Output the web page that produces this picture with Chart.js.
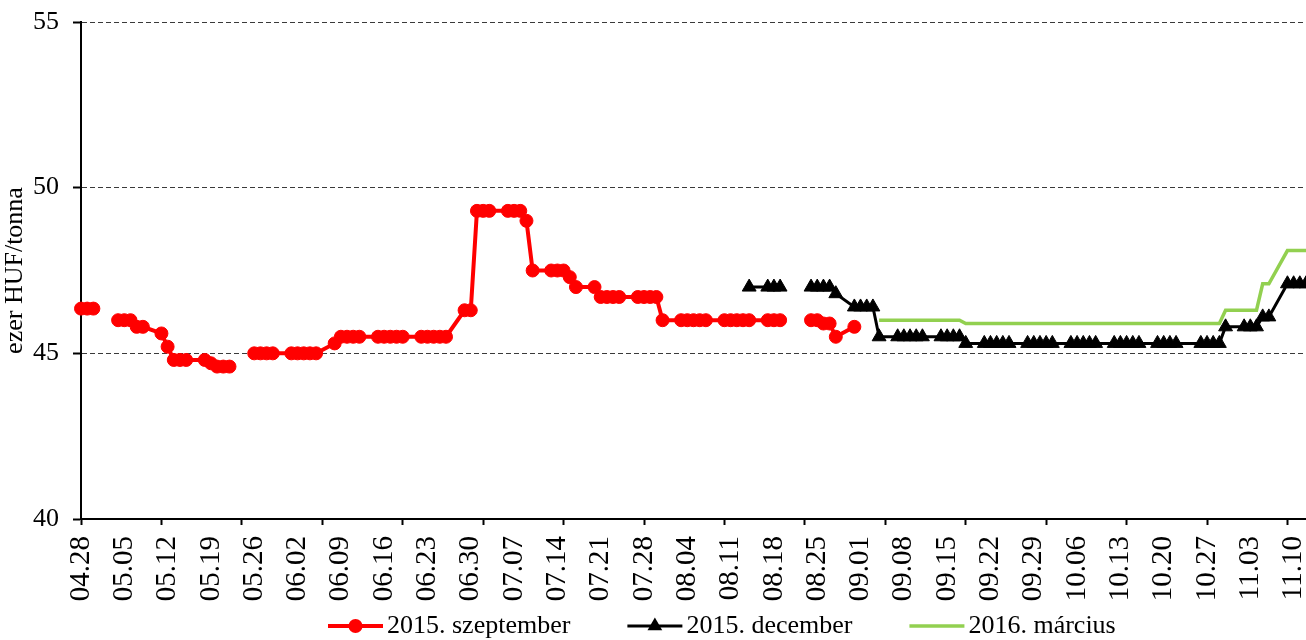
<!DOCTYPE html>
<html>
<head>
<meta charset="utf-8">
<script src="https://cdn.jsdelivr.net/npm/chart.js@4.4.0/dist/chart.umd.min.js"></script>
<style>
  html, body { margin: 0; padding: 0; background: #fff; }
  #wrap { width: 1306px; height: 640px; }
</style>
</head>
<body>
<div id="wrap"><canvas id="chart" width="1306" height="640"></canvas></div>
<script>
// x axis: one category per calendar day
const firstDay = "2015-04-28";
const lastDay = "2015-11-12";
const labelStep = 7;    // a date label every week
const tickStep = 13;    // tick marks every 13 days
// weekdays that have no row in the table
const noRow = ["10.23"];

// one value per trading row, week by week (null = empty cell)
const szeptStart = "04.28";
const szept2015 = [
  46.35, 46.35, 46.35, null,
  46.0, 46.0, 46.0, 45.8, 45.8,
  45.6, 45.2, 44.8, 44.8, 44.8,
  44.8, 44.7, 44.6, 44.6, 44.6,
  null, 45.0, 45.0, 45.0, 45.0,
  45.0, 45.0, 45.0, 45.0, 45.0,
  45.3, 45.5, 45.5, 45.5, 45.5,
  45.5, 45.5, 45.5, 45.5, 45.5,
  45.5, 45.5, 45.5, 45.5, 45.5,
  46.3, 46.3, 49.3, 49.3, 49.3,
  49.3, 49.3, 49.3, 49.0, 47.5,
  47.5, 47.5, 47.5, 47.3, 47.0,
  47.0, 46.7, 46.7, 46.7, 46.7,
  46.7, 46.7, 46.7, 46.7, 46.0,
  46.0, 46.0, 46.0, 46.0, 46.0,
  46.0, 46.0, 46.0, 46.0, 46.0,
  46.0, 46.0, 46.0, null, null,
  46.0, 46.0, 45.9, 45.9, 45.5,
  45.8
];

const decStart = "08.14";
const dec2015 = [
  47.0,
  47.0, 47.0, 47.0, null, null,
  47.0, 47.0, 47.0, 47.0, 46.8,
  46.4, 46.4, 46.4, 46.4, 45.5,
  45.5, 45.5, 45.5, 45.5, 45.5,
  45.5, 45.5, 45.5, 45.5, 45.3,
  45.3, 45.3, 45.3, 45.3, 45.3,
  45.3, 45.3, 45.3, 45.3, 45.3,
  45.3, 45.3, 45.3, 45.3, 45.3,
  45.3, 45.3, 45.3, 45.3, 45.3,
  45.3, 45.3, 45.3, 45.3,
  45.3, 45.3, 45.3, 45.3, 45.8,
  45.8, 45.8, 45.8, 46.1, 46.1,
  47.1, 47.1, 47.1, 47.1
];

const marStart = "09.04";
const mar2016 = [
  46.0,
  46.0, 46.0, 46.0, 46.0, 46.0,
  46.0, 46.0, 46.0, 46.0, 45.9,
  45.9, 45.9, 45.9, 45.9, 45.9,
  45.9, 45.9, 45.9, 45.9, 45.9,
  45.9, 45.9, 45.9, 45.9, 45.9,
  45.9, 45.9, 45.9, 45.9, 45.9,
  45.9, 45.9, 45.9, 45.9,
  45.9, 45.9, 45.9, 45.9, 46.3,
  46.3, 46.3, 46.3, 47.1, 47.1,
  48.1, 48.1, 48.1, 48.1
];

const seriesNames = ["2015. szeptember", "2015. december", "2016. március"];

const fontFam = '"Liberation Serif", "Times New Roman", serif';
const font = { family: fontFam, size: 26 };
const dateFont = { family: fontFam, size: 29 };

// calendar labels and trading rows
const dayLabels = [];
const rowDays = [];
for (let t = new Date(firstDay + "T00:00:00Z"); t <= new Date(lastDay + "T00:00:00Z"); t.setUTCDate(t.getUTCDate() + 1)) {
  const lbl = String(t.getUTCMonth() + 1).padStart(2, "0") + "." + String(t.getUTCDate()).padStart(2, "0");
  dayLabels.push(lbl);
  const wd = t.getUTCDay();
  if (wd !== 0 && wd !== 6 && !noRow.includes(lbl)) rowDays.push(lbl);
}

function rows(start, values){
  const i0 = rowDays.indexOf(start);
  return values.map((v, i) => ({ x: rowDays[i0 + i], y: v }));
}

// no extra room for overflowing tick labels
function noPad(s){ s.paddingLeft = 0; s.paddingRight = 0; s.paddingTop = 0; s.paddingBottom = 0; }

// legend under the plot: line + marker + text
const bottomLegend = {
  id: "bottomLegend",
  afterDraw(chart){
    const ctx = chart.ctx;
    const y = 626;
    let x = 328;
    ctx.save();
    ctx.font = "26px " + fontFam;
    ctx.textBaseline = "middle";
    ctx.textAlign = "left";
    chart.data.datasets.forEach(ds => {
      ctx.strokeStyle = ds.borderColor;
      ctx.lineWidth = ds.borderWidth;
      ctx.beginPath(); ctx.moveTo(x, y); ctx.lineTo(x + 55, y); ctx.stroke();
      const cx = x + 27.5;
      ctx.fillStyle = ds.borderColor;
      if (ds.pointRadius > 0 && ds.pointStyle === "circle") {
        ctx.beginPath(); ctx.arc(cx, y, ds.pointRadius + 0.5, 0, Math.PI * 2); ctx.fill();
      } else if (ds.pointRadius > 0 && ds.pointStyle === "triangle") {
        const r = ds.pointRadius + 0.5;
        ctx.beginPath();
        ctx.moveTo(cx, y - r);
        ctx.lineTo(cx + r * 0.866, y + r / 2);
        ctx.lineTo(cx - r * 0.866, y + r / 2);
        ctx.closePath(); ctx.fill();
      }
      ctx.fillStyle = "#000";
      ctx.fillText(ds.label, x + 59, y);
      x += 59 + ctx.measureText(ds.label).width + 57;
    });
    ctx.restore();
  }
};

new Chart(document.getElementById("chart"), {
  type: "line",
  data: {
    labels: dayLabels,
    datasets: [
      { label: seriesNames[0], data: rows(szeptStart, szept2015), order: 3,
        borderColor: "#FF0000", backgroundColor: "#FF0000", borderWidth: 4,
        pointStyle: "circle", pointRadius: 6.5, pointBorderWidth: 1, pointHoverRadius: 6.5,
        tension: 0, spanGaps: false, clip: false },
      { label: seriesNames[1], data: rows(decStart, dec2015), order: 2,
        borderColor: "#000000", backgroundColor: "#000000", borderWidth: 3,
        pointStyle: "triangle", pointRadius: 8, pointBorderWidth: 1, pointHoverRadius: 8,
        tension: 0, spanGaps: false, clip: false },
      { label: seriesNames[2], data: rows(marStart, mar2016), order: 1,
        borderColor: "#92D050", backgroundColor: "#92D050", borderWidth: 3.5,
        pointRadius: 0, pointHoverRadius: 0,
        tension: 0, spanGaps: false, clip: false }
    ]
  },
  options: {
    responsive: false,
    animation: false,
    events: [],
    layout: { autoPadding: false, padding: { top: 22, right: 0, bottom: 38, left: 0 } },
    plugins: { legend: { display: false }, tooltip: { enabled: false } },
    scales: {
      x: {
        type: "category", position: "bottom", weight: 1, offset: false,
        grid: { display: false, drawTicks: false },
        border: { display: false },
        ticks: { autoSkip: false, minRotation: 90, maxRotation: 90, padding: 11, color: "#000", font: dateFont },
        afterBuildTicks: s => { s.ticks = s.ticks.filter(t => t.value % labelStep === 0); },
        afterFit: s => { s.height = 77; noPad(s); }
      },
      xTicks: {
        type: "linear", position: "bottom", weight: 0, min: 0, max: dayLabels.length - 1,
        ticks: { display: false, stepSize: tickStep, includeBounds: false },
        grid: { drawOnChartArea: false, drawTicks: true, tickLength: 6, tickColor: "#000", tickWidth: 2, color: "#000" },
        border: { display: true, color: "#000", width: 2 },
        afterFit: s => { s.height = 6; noPad(s); }
      },
      y: {
        min: 40, max: 55,
        ticks: { stepSize: 5, padding: 14, color: "#000", font },
        grid: {
          color: c => c.tick && c.tick.value === 40 ? "rgba(0,0,0,0)" : "#3a3a3a",
          lineWidth: 1, tickColor: "#000", tickWidth: 2, tickLength: 8
        },
        border: { display: true, color: "#000", width: 2, dash: [5, 3] },
        title: { display: true, text: "ezer HUF/tonna", color: "#000", font, padding: 0 },
        afterFit: s => { s.width = 81; noPad(s); }
      }
    }
  },
  plugins: [bottomLegend]
});
</script>
</body>
</html>
